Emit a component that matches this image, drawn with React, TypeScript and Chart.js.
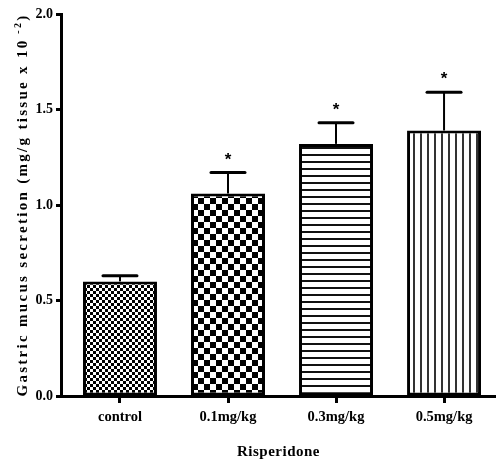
import React, { useEffect, useRef } from 'react';
import { Chart, registerables } from 'chart.js';

Chart.register(...registerables);

// ---- data ----
const categories = ['control', '0.1mg/kg', '0.3mg/kg', '0.5mg/kg'];
const means = [0.60, 1.06, 1.32, 1.39];
const sems = [0.03, 0.11, 0.11, 0.20];
const significant = [false, true, true, true];
const yTicks = [0, 0.5, 1.0, 1.5, 2.0];
const yTitleMain = 'Gastric mucus secretion (mg/g tissue x 10';
const yTitleSup = ' -2';
const yTitleTail = ')';
const xTitle = 'Risperidone';
const patternKinds = ['fineCheck', 'coarseCheck', 'hLines', 'vLines'];

const SERIF = "'Liberation Serif', 'Times New Roman', serif";

function makePattern(kind: string): CanvasPattern | string {
  const c = document.createElement('canvas');
  const ctx = c.getContext('2d');
  if (!ctx) return '#fff';
  if (kind === 'fineCheck' || kind === 'coarseCheck') {
    const s = kind === 'fineCheck' ? 3 : 6;
    c.width = s * 2;
    c.height = s * 2;
    ctx.fillStyle = '#fff';
    ctx.fillRect(0, 0, s * 2, s * 2);
    ctx.fillStyle = '#000';
    ctx.fillRect(0, 0, s, s);
    ctx.fillRect(s, s, s, s);
  } else if (kind === 'hLines') {
    c.width = 7;
    c.height = 7;
    ctx.fillStyle = '#fff';
    ctx.fillRect(0, 0, 7, 7);
    ctx.fillStyle = '#111';
    ctx.fillRect(0, 0, 7, 2);
  } else {
    c.width = 7;
    c.height = 7;
    ctx.fillStyle = '#fff';
    ctx.fillRect(0, 0, 7, 7);
    ctx.fillStyle = '#333';
    ctx.fillRect(0, 0, 2, 7);
  }
  const p = ctx.createPattern(c, 'repeat');
  return p || '#fff';
}

const errorBarPlugin = {
  id: 'errorBars',
  afterDatasetsDraw(chart: any) {
    const ctx = chart.ctx as CanvasRenderingContext2D;
    const meta = chart.getDatasetMeta(0);
    const yScale = chart.scales.y;
    ctx.save();
    meta.data.forEach((el: any, i: number) => {
      const x = el.x;
      const top = el.y;
      const yEnd = yScale.getPixelForValue(means[i] + sems[i]);
      ctx.strokeStyle = '#000';
      ctx.lineWidth = 2;
      ctx.beginPath();
      ctx.moveTo(x, top);
      ctx.lineTo(x, yEnd);
      ctx.stroke();
      ctx.lineWidth = 3;
      ctx.lineCap = 'round';
      ctx.beginPath();
      ctx.moveTo(x - 17, yEnd);
      ctx.lineTo(x + 17, yEnd);
      ctx.stroke();
      ctx.lineCap = 'butt';
      if (significant[i]) {
        ctx.fillStyle = '#000';
        ctx.font = "bold 17px 'Liberation Sans', Arial, sans-serif";
        ctx.textAlign = 'center';
        ctx.textBaseline = 'alphabetic';
        ctx.fillText('*', x, yEnd - 8);
      }
    });
    ctx.restore();
  },
};

const titlesPlugin = {
  id: 'axisTitles',
  afterDraw(chart: any) {
    const ctx = chart.ctx as any;
    const area = chart.chartArea;
    ctx.save();
    ctx.fillStyle = '#000';
    // y title
    const mainFont = `bold 15px ${SERIF}`;
    const supFont = `bold 10px ${SERIF}`;
    ctx.letterSpacing = '2.3px';
    ctx.font = mainFont;
    const w1 = ctx.measureText(yTitleMain).width;
    const w3 = ctx.measureText(yTitleTail).width;
    ctx.font = supFont;
    const w2 = ctx.measureText(yTitleSup).width;
    const total = w1 + w2 + w3;
    const cy = (area.top + area.bottom) / 2;
    ctx.translate(27, cy);
    ctx.rotate(-Math.PI / 2);
    ctx.textBaseline = 'alphabetic';
    ctx.textAlign = 'left';
    let x = -total / 2;
    ctx.font = mainFont;
    ctx.fillText(yTitleMain, x, 0);
    x += w1;
    ctx.font = supFont;
    ctx.fillText(yTitleSup, x, -6);
    x += w2;
    ctx.font = mainFont;
    ctx.fillText(yTitleTail, x, 0);
    ctx.setTransform(1, 0, 0, 1, 0, 0);
    // x title
    ctx.letterSpacing = '0.5px';
    ctx.font = `bold 15px ${SERIF}`;
    ctx.textAlign = 'center';
    ctx.textBaseline = 'middle';
    ctx.fillText(xTitle, (area.left + area.right) / 2, 452);
    ctx.restore();
  },
};

export default function App() {
  const ref = useRef<HTMLCanvasElement>(null);
  useEffect(() => {
    if (!ref.current) return;
    const chart = new Chart(ref.current, {
      type: 'bar',
      data: {
        datasets: [
          {
            data: categories.map((_, i) => ({ x: i, y: means[i] })) as any,
            backgroundColor: patternKinds.map((k) => makePattern(k)) as any,
            borderColor: '#000',
            borderWidth: 3,
            borderSkipped: false,
            barPercentage: 0.685,
            categoryPercentage: 1,
          },
        ],
      },
      options: {
        responsive: false,
        animation: false,
        layout: { padding: { top: 14, right: 0, left: 0, bottom: 0 } },
        plugins: {
          legend: { display: false },
          tooltip: { enabled: false },
          title: { display: false },
        },
        scales: {
          x: {
            type: 'linear',
            offset: false,
            min: -0.546,
            max: 3.481,
            afterBuildTicks: (s: any) => {
              s.ticks = categories.map((_, i) => ({ value: i }));
            },
            afterFit: (s: any) => {
              s.height = 68;
            },
            ticks: {
              callback: (v: any) => categories[v as number],
              color: '#000',
              font: { family: SERIF, size: 14.5, weight: 'bold' },
              padding: 6,
              maxRotation: 0,
              autoSkip: false,
            },
            grid: {
              display: true,
              offset: false,
              drawOnChartArea: false,
              drawTicks: true,
              tickLength: 7,
              tickWidth: 3,
              color: '#000',
            },
            border: { display: true, color: '#000', width: 3 },
          },
          y: {
            min: 0,
            max: 2,
            afterBuildTicks: (s: any) => {
              s.ticks = yTicks.map((v) => ({ value: v }));
            },
            afterFit: (s: any) => {
              s.width = 61;
            },
            ticks: {
              callback: (v: any) => Number(v).toFixed(1),
              color: '#000',
              font: { family: SERIF, size: 14, weight: 'bold' },
              padding: 3,
            },
            grid: {
              display: true,
              drawOnChartArea: false,
              drawTicks: true,
              tickLength: 5,
              tickWidth: 3,
              color: '#000',
            },
            border: { display: true, color: '#000', width: 3 },
          },
        },
      } as any,
      plugins: [errorBarPlugin, titlesPlugin],
    });
    return () => chart.destroy();
  }, []);
  return (
    <div style={{ position: 'fixed', left: 0, top: 0, width: 496, height: 464, background: '#fff' }}>
      <canvas ref={ref} width={496} height={464} style={{ display: 'block' }} />
    </div>
  );
}
